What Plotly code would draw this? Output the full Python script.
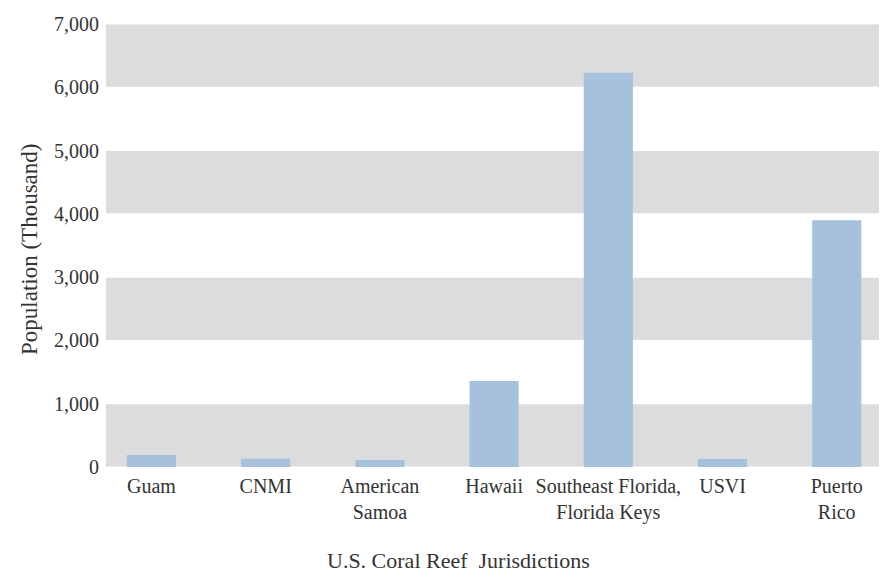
import plotly.graph_objects as go

categories = ["Guam", "CNMI", "American<br>Samoa", "Hawaii",
              "Southeast Florida,<br>Florida Keys", "USVI", "Puerto<br>Rico"]
population = [190, 130, 110, 1360, 6230, 125, 3900]
band_ranges = [(0, 1000), (2000, 3000), (4000, 5000), (6000, 7000)]
y_ticks = [0, 1000, 2000, 3000, 4000, 5000, 6000, 7000]
y_ticktext = ["0", "1,000", "2,000", "3,000", "4,000", "5,000", "6,000", "7,000"]

FONT = "Liberation Serif"
TXT = "#333333"

x_pos = list(range(len(categories)))

fig = go.Figure()
fig.add_trace(go.Bar(x=x_pos, y=population, marker=dict(color="#a6c1dc", line=dict(width=0)),
                     width=0.43, hoverinfo="skip"))

shapes = []
for lo, hi in band_ranges:
    shapes.append(dict(type="rect", xref="paper", yref="y", x0=0, x1=1,
                       y0=lo + 8, y1=hi - 8, fillcolor="#dcdcdc", line=dict(width=0),
                       layer="below"))

fig.update_layout(
    width=883, height=572,
    margin=dict(l=106, r=4, t=24, b=105, autoexpand=False),
    plot_bgcolor="white", paper_bgcolor="white",
    shapes=shapes,
    showlegend=False,
    font=dict(family=FONT, size=20, color=TXT),
    xaxis=dict(range=[-0.398, 6.37], tickvals=x_pos, ticktext=categories,
               showgrid=False, zeroline=False, showline=False, ticks="",
               ticklabelstandoff=5,
               tickfont=dict(size=20, color=TXT), automargin=False),
    yaxis=dict(range=[0, 7000], tickvals=y_ticks, ticktext=y_ticktext,
               showgrid=False, zeroline=False, showline=False, ticks="",
               ticklabelstandoff=6,
               tickfont=dict(size=20, color=TXT), automargin=False),
    annotations=[
        dict(text="U.S. Coral Reef  Jurisdictions", xref="paper", yref="paper",
             x=(458 - 106) / 773, y=-(560 - 467) / 443, xanchor="center", yanchor="middle",
             showarrow=False, font=dict(size=22, color=TXT)),
        dict(text="Population (Thousand)", xref="paper", yref="paper", textangle=-90,
             x=(30 - 106) / 773, y=(467 - 250) / 443, xanchor="center", yanchor="middle",
             showarrow=False, font=dict(size=23, color=TXT)),
    ],
)

fig.write_html("out.html", config={"displayModeBar": False},
               post_script="document.body.style.margin='0';")
